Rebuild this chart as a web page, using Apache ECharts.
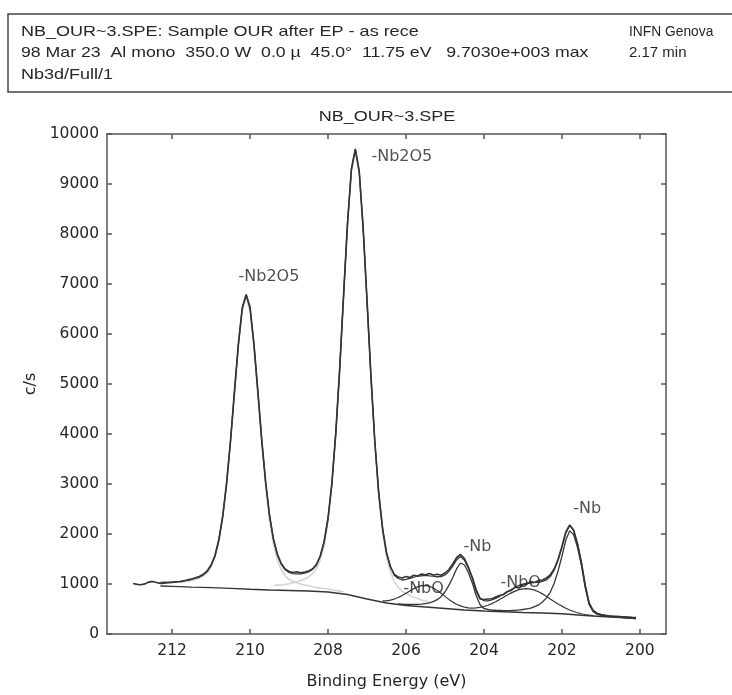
<!DOCTYPE html>
<html><head><meta charset="utf-8">
<script src="https://cdn.jsdelivr.net/npm/echarts@6/dist/echarts.min.js"></script>
<style>html,body{margin:0;padding:0;background:#fff}#c{width:732px;height:695px}</style>
</head><body><div id="c"></div>
<script>
// Binding energy grid (eV)
const energy = [
 213.0,212.9,212.8,212.7,212.6,212.5,212.4,212.3,212.2,212.1,
 212.0,211.9,211.8,211.7,211.6,211.5,211.4,211.3,211.2,211.1,
 211.0,210.9,210.8,210.7,210.6,210.5,210.4,210.3,210.2,210.1,
 210.0,209.9,209.8,209.7,209.6,209.5,209.4,209.3,209.2,209.1,
 209.0,208.9,208.8,208.7,208.6,208.5,208.4,208.3,208.2,208.1,
 208.0,207.9,207.8,207.7,207.6,207.5,207.4,207.3,207.2,207.1,
 207.0,206.9,206.8,206.7,206.6,206.5,206.4,206.3,206.2,206.1,
 206.0,205.9,205.8,205.7,205.6,205.5,205.4,205.3,205.2,205.1,
 205.0,204.9,204.8,204.7,204.6,204.5,204.4,204.3,204.2,204.1,
 204.0,203.9,203.8,203.7,203.6,203.5,203.4,203.3,203.2,203.1,
 203.0,202.9,202.8,202.7,202.6,202.5,202.4,202.3,202.2,202.1,
 202.0,201.9,201.8,201.7,201.6,201.5,201.4,201.3,201.2,201.1,
 201.0,200.9,200.8,200.7,200.6,200.5,200.4,200.3,200.2,200.1
];
// Measured spectrum (c/s)
const counts = [
 1010,992,985,1002,1038,1052,1030,1012,1018,1026,
 1032,1040,1046,1060,1082,1098,1125,1150,1195,1262,
 1380,1570,1890,2370,3040,3880,4860,5800,6530,6790,
 6540,5800,4860,3880,3040,2370,1900,1600,1410,1300,
 1250,1230,1245,1225,1240,1262,1300,1390,1560,1850,
 2320,3030,4040,5320,6800,8220,9300,9703,9260,8140,
 6680,5180,3860,2830,2110,1630,1350,1190,1140,1120,
 1150,1130,1175,1160,1200,1185,1210,1180,1195,1175,
 1220,1290,1400,1530,1590,1510,1340,1120,860,700,
 690,700,705,740,770,790,850,870,935,920,
 980,1000,1050,1030,1070,1080,1120,1180,1300,1490,
 1750,2040,2180,2080,1800,1430,960,610,460,410,
 385,372,360,350,345,338,330,322,315,308
];
// Fit envelope
const fitCounts = [
 null,null,null,null,null,null,null,1032,1036,1039,
 1040,1047,1052,1069,1079,1094,1116,1139,1184,1249,
 1371,1562,1877,2355,3019,3870,4843,5786,6509,6783,
 6508,5787,4844,3872,3025,2364,1892,1584,1395,1284,
 1231,1209,1201,1203,1219,1241,1290,1376,1550,1837,
 2307,3021,4022,5307,6780,8209,9292,9689,9250,8126,
 6665,5161,3844,2812,2097,1618,1340,1175,1110,1080,
 1092,1111,1135,1160,1165,1173,1163,1156,1145,1147,
 1180,1251,1357,1487,1550,1476,1314,1141,895,720,
 667,663,684,713,754,796,842,889,934,972,
 996,1015,1020,1033,1033,1051,1081,1148,1276,1476,
 1732,2019,2172,2071,1796,1426,960,618,477,419,
 392,378,368,361,356,350,345,340,335,331
];
// Nb2O5 3d3/2 component
const nb2o5aCounts = [
 null,null,null,null,null,null,null,null,null,null,
 null,null,1032,1047,1056,1070,1091,1113,1157,1220,
 1340,1530,1843,2319,2981,3829,4800,5741,6460,6730,
 6451,5725,4778,3801,2947,2279,1799,1482,1288,1164,
 1097,1049,1023,998,979,965,943,931,918,910,
 901,886,871,858,844,null,null,null,null,null,
 null,null,null,null,null,null,null,null,null,null,
 null,null,null,null,null,null,null,null,null,null,
 null,null,null,null,null,null,null,null,null,null,
 null,null,null,null,null,null,null,null,null,null,
 null,null,null,null,null,null,null,null,null,null,
 null,null,null,null,null,null,null,null,null,null,
 null,null,null,null,null,null,null,null,null,null
];
// Nb2O5 3d5/2 component
const nb2o5bCounts = [
 null,null,null,null,null,null,null,null,null,null,
 null,null,null,null,null,null,null,null,null,null,
 null,null,null,null,null,null,null,null,null,null,
 null,null,null,null,null,null,971,978,981,992,
 1004,1028,1044,1069,1102,1136,1203,1297,1480,1770,
 2246,2966,3971,5260,6736,8168,9254,9654,9218,8096,
 6636,5134,3819,2788,2042,1546,1242,1045,937,856,
 810,769,736,712,680,660,641,null,null,null,
 null,null,null,null,null,null,null,null,null,null,
 null,null,null,null,null,null,null,null,null,null,
 null,null,null,null,null,null,null,null,null,null,
 null,null,null,null,null,null,null,null,null,null,
 null,null,null,null,null,null,null,null,null,null
];
// NbO component
const nboCounts = [
 null,null,null,null,null,null,null,null,null,null,
 null,null,null,null,null,null,null,null,null,null,
 null,null,null,null,null,null,null,null,null,null,
 null,null,null,null,null,null,null,null,null,null,
 null,null,null,null,null,null,null,null,null,null,
 null,null,null,null,null,null,null,null,null,null,
 null,null,null,null,663,663,678,699,730,768,
 813,862,908,944,966,970,954,920,872,814,
 753,692,638,596,562,536,523,518,521,531,
 550,574,607,645,688,733,779,822,858,887,
 903,908,899,878,844,803,754,702,651,602,
 558,516,480,449,425,405,390,378,368,null,
 null,null,null,null,null,null,null,null,null,null
];
// Nb metal component
const nbCounts = [
 null,null,null,null,null,null,null,null,null,null,
 null,null,null,null,null,null,null,null,null,null,
 null,null,null,null,null,null,null,null,null,null,
 null,null,null,null,null,null,null,null,null,null,
 null,null,null,null,null,null,null,null,null,null,
 null,null,null,null,null,null,null,null,null,null,
 null,null,null,null,null,null,null,null,604,598,
 592,591,591,593,596,609,622,649,687,747,
 840,972,1131,1306,1420,1380,1230,1022,771,585,
 510,491,479,475,472,468,468,470,474,481,
 490,503,516,549,582,640,717,834,1011,1258,
 1555,1879,2063,1987,1731,1375,920,585,450,395,
 370,358,350,344,339,334,329,324,320,316
];
// Shirley background
const bgEnergy = [212.3,212.0,211.5,211.0,210.5,210.0,209.5,209.0,208.5,208.0,207.5,207.0,206.5,206.0,205.5,205.0,204.5,204.0,203.5,203.0,202.5,202.0,201.5,201.0,200.5,200.1];
const bgCounts = [960,951,936,926,914,895,880,870,860,840,790,700,620,570,540,510,480,460,445,430,420,405,375,350,330,315];

const xTicks = [212,210,208,206,204,202,200];
const peakLabels = ['-Nb2O5','-Nb2O5','-Nb','-Nb','-NbO','-NbO'];
const labelEnergy = [210.31,206.90,204.54,201.72,206.08,203.59];
const labelCounts = [7150,9550,1750,2510,895,1031];

const headerLine1 = 'NB_OUR~3.SPE: Sample OUR after EP - as rece';
const headerLine2 = '98 Mar 23  Al mono  350.0 W  0.0 \u00b5  45.0\u00b0  11.75 eV   9.7030e+003 max';
const headerLine3 = 'Nb3d/Full/1';
const headerRight1 = 'INFN Genova';
const headerRight2 = '2.17 min';
const plotTitle = 'NB_OUR~3.SPE';

function pairs(xs, ys){ return xs.map((x,i)=>[x, ys[i]]); }

const axisColor = '#555';
const lineColor = '#353535';
const txt = '#262626';
const font = 'DejaVu Sans';
const hdrFont = '15px "Liberation Sans", Arial, sans-serif';

function lineSeries(data, color, width, z){
  return {type:'line', data:data, showSymbol:false, symbol:'none', connectNulls:false,
    lineStyle:{color:color, width:width}, z:z, silent:true, animation:false};
}

const chart = echarts.init(document.getElementById('c'));
const xCommon = {type:'value', inverse:true, min:199.33, max:213.67, splitLine:{show:false},
  axisLine:{show:true, onZero:false, lineStyle:{color:axisColor, width:1.5}},
  axisTick:{show:true, inside:true, length:5, customValues:xTicks, lineStyle:{color:axisColor, width:1.5}}};
const yCommon = {type:'value', min:0, max:10000, interval:1000, splitLine:{show:false},
  axisLine:{show:true, onZero:false, lineStyle:{color:axisColor, width:1.5}},
  axisTick:{show:true, inside:true, length:5, lineStyle:{color:axisColor, width:1.5}}};

chart.setOption({
  animation:false,
  backgroundColor:'#fff',
  grid:{left:107, right:66, top:134, bottom:47},
  xAxis:[
    Object.assign({}, xCommon, {position:'bottom',
      axisLabel:{customValues:xTicks, color:txt, fontSize:15.5, fontFamily:font, margin:9},
      name:'Binding Energy (eV)', nameLocation:'middle', nameGap:40,
      nameTextStyle:{color:txt, fontSize:16, fontFamily:font}}),
    Object.assign({}, xCommon, {position:'top', axisLabel:{show:false}})
  ],
  yAxis:[
    Object.assign({}, yCommon, {position:'left',
      axisLabel:{color:txt, fontSize:15.5, fontFamily:font, margin:8, formatter:v=>String(v)},
      name:'c/s', nameLocation:'middle', nameGap:56,
      nameTextStyle:{color:txt, fontSize:16, fontFamily:font}}),
    Object.assign({}, yCommon, {position:'right', axisLabel:{show:false}})
  ],
  graphic:[
    {type:'rect', shape:{x:8, y:14, width:760, height:78}, style:{fill:'none', stroke:'#444', lineWidth:1.5}},
    {type:'text', x:21, y:32, scaleX:1.2, style:{text:headerLine1, x:0, y:0, textVerticalAlign:'middle', font:hdrFont, fill:txt}},
    {type:'text', x:21, y:53, scaleX:1.18, style:{text:headerLine2, x:0, y:0, textVerticalAlign:'middle', font:hdrFont, fill:txt}},
    {type:'text', x:21, y:75, scaleX:1.2, style:{text:headerLine3, x:0, y:0, textVerticalAlign:'middle', font:hdrFont, fill:txt}},
    {type:'text', x:629, y:32, scaleX:0.92, style:{text:headerRight1, x:0, y:0, textVerticalAlign:'middle', font:hdrFont, fill:txt}},
    {type:'text', x:629, y:53, scaleX:1.0, style:{text:headerRight2, x:0, y:0, textVerticalAlign:'middle', font:hdrFont, fill:txt}},
    {type:'text', x:387, y:117, scaleX:1.2, style:{text:plotTitle, x:0, y:0, textAlign:'center', textVerticalAlign:'middle', font:hdrFont, fill:txt}}
  ],
  series:[
    lineSeries(pairs(energy, nb2o5aCounts), '#d4d4d4', 1.6, 1),
    lineSeries(pairs(energy, nb2o5bCounts), '#d4d4d4', 1.6, 1),
    lineSeries(pairs(bgEnergy, bgCounts), lineColor, 1.3, 2),
    lineSeries(pairs(energy, nboCounts), lineColor, 1.2, 3),
    lineSeries(pairs(energy, nbCounts), lineColor, 1.3, 3),
    lineSeries(pairs(energy, fitCounts), lineColor, 1.3, 4),
    lineSeries(pairs(energy, counts), lineColor, 1.6, 5),
    {type:'scatter', data:pairs(labelEnergy, labelCounts), symbol:'circle', symbolSize:1,
      itemStyle:{color:'rgba(0,0,0,0)'}, silent:true, z:6,
      label:{show:true, position:'right', distance:0, color:txt, fontSize:16, fontFamily:font,
        formatter:p=>peakLabels[p.dataIndex]}}
  ]
});
</script></body></html>
